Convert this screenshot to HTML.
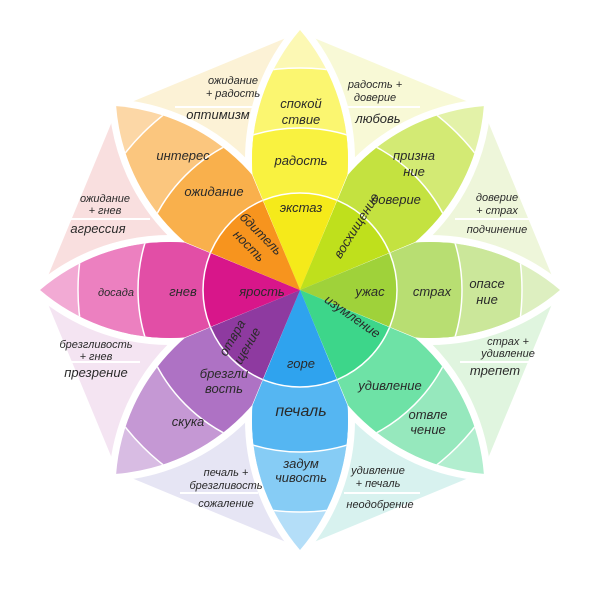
<!DOCTYPE html>
<html><head><meta charset="utf-8"><style>
html,body{margin:0;padding:0;background:#fff;width:604px;height:604px;overflow:hidden}
svg{display:block}
text{font-family:"Liberation Sans",sans-serif;font-style:italic;fill:#2a2a2a;text-anchor:middle}
.s{font-size:11px}
.m{font-size:13px}
</style></head><body>
<svg width="604" height="604" viewBox="0 0 604 604">
<defs>
<clipPath id="w"><polygon points="0,0 -115,-280 115,-280"/></clipPath>
<clipPath id="l"><path d="M0,0 A200,200 0 0 1 0,-260 A200,200 0 0 1 0,0Z"/></clipPath>
<g id="gap"><path d="M0,0 A200,200 0 0 1 0,-260 A200,200 0 0 1 0,0Z" fill="#fff" stroke="#fff" stroke-width="14" stroke-linejoin="round"/></g>
</defs>
<g transform="translate(300,290)">
<g stroke="#fff" stroke-width="4">
<polygon points="0,0 0,-260 -183.8,-183.8" fill="#fcf2d6"/>
<polygon points="0,0 0,-260 183.8,-183.8" fill="#f8f9d6"/>
<polygon points="0,0 183.8,-183.8 260,0" fill="#eef6da"/>
<polygon points="0,0 260,0 183.8,183.8" fill="#e0f5df"/>
<polygon points="0,0 183.8,183.8 0,260" fill="#d8f2ef"/>
<polygon points="0,0 0,260 -183.8,183.8" fill="#e6e5f4"/>
<polygon points="0,0 -183.8,183.8 -260,0" fill="#f4e4f2"/>
<polygon points="0,0 -260,0 -183.8,-183.8" fill="#f9dfdf"/>
</g>
<use href="#gap"/><use href="#gap" transform="rotate(45)"/><use href="#gap" transform="rotate(90)"/><use href="#gap" transform="rotate(135)"/><use href="#gap" transform="rotate(180)"/><use href="#gap" transform="rotate(225)"/><use href="#gap" transform="rotate(270)"/><use href="#gap" transform="rotate(315)"/>
<g transform="rotate(0)"><g clip-path="url(#w)"><g clip-path="url(#l)">
<circle r="270" fill="#fcf8b4"/><circle r="222" fill="#fbf670"/><circle r="162" fill="#f9f240"/><circle r="97" fill="#f5ea1a"/>
<g fill="none" stroke="#fff" stroke-width="1.5"><circle r="222"/><circle r="162"/><circle r="97"/></g></g></g></g>
<g transform="rotate(45)"><g clip-path="url(#w)"><g clip-path="url(#l)">
<circle r="270" fill="#e3f2a8"/><circle r="222" fill="#d3ea74"/><circle r="162" fill="#c4e240"/><circle r="97" fill="#bfe01c"/>
<g fill="none" stroke="#fff" stroke-width="1.5"><circle r="222"/><circle r="162"/><circle r="97"/></g></g></g></g>
<g transform="rotate(90)"><g clip-path="url(#w)"><g clip-path="url(#l)">
<circle r="270" fill="#ddefc0"/><circle r="222" fill="#cbe79a"/><circle r="162" fill="#b8de72"/><circle r="97" fill="#9fd23a"/>
<g fill="none" stroke="#fff" stroke-width="1.5"><circle r="222"/><circle r="162"/><circle r="97"/></g></g></g></g>
<g transform="rotate(135)"><g clip-path="url(#w)"><g clip-path="url(#l)">
<circle r="270" fill="#b2eecf"/><circle r="222" fill="#96e8bd"/><circle r="162" fill="#6ee2a6"/><circle r="97" fill="#3dd68a"/>
<g fill="none" stroke="#fff" stroke-width="1.5"><circle r="222"/><circle r="162"/><circle r="97"/></g></g></g></g>
<g transform="rotate(180)"><g clip-path="url(#w)"><g clip-path="url(#l)">
<circle r="270" fill="#b4def8"/><circle r="222" fill="#86ccf5"/><circle r="162" fill="#55b6f2"/><circle r="97" fill="#2fa3ee"/>
<g fill="none" stroke="#fff" stroke-width="1.5"><circle r="222"/><circle r="162"/><circle r="97"/></g></g></g></g>
<g transform="rotate(225)"><g clip-path="url(#w)"><g clip-path="url(#l)">
<circle r="270" fill="#d8bce3"/><circle r="222" fill="#c598d4"/><circle r="162" fill="#ae72c4"/><circle r="97" fill="#8e3aa0"/>
<g fill="none" stroke="#fff" stroke-width="1.5"><circle r="222"/><circle r="162"/><circle r="97"/></g></g></g></g>
<g transform="rotate(270)"><g clip-path="url(#w)"><g clip-path="url(#l)">
<circle r="270" fill="#f2aad4"/><circle r="222" fill="#ec80c0"/><circle r="162" fill="#e24ea6"/><circle r="97" fill="#d8168a"/>
<g fill="none" stroke="#fff" stroke-width="1.5"><circle r="222"/><circle r="162"/><circle r="97"/></g></g></g></g>
<g transform="rotate(315)"><g clip-path="url(#w)"><g clip-path="url(#l)">
<circle r="270" fill="#fcd7a6"/><circle r="222" fill="#fbc67e"/><circle r="162" fill="#f9b04c"/><circle r="97" fill="#f7941e"/>
<g fill="none" stroke="#fff" stroke-width="1.5"><circle r="222"/><circle r="162"/><circle r="97"/></g></g></g></g>
</g>
<g stroke="#fff" stroke-width="2">
<line x1="175" y1="107" x2="258" y2="107"/><line x1="344" y1="107" x2="420" y2="107"/>
<line x1="455" y1="219" x2="545" y2="219"/><line x1="460" y1="362" x2="535" y2="362"/>
<line x1="344" y1="493" x2="420" y2="493"/><line x1="180" y1="493" x2="258" y2="493"/>
<line x1="55" y1="362" x2="140" y2="362"/><line x1="60" y1="219" x2="150" y2="219"/>
</g>
<text class="m" x="301" y="108">спокой</text><text class="m" x="301" y="124">ствие</text>
<text class="m" x="301" y="165">радость</text><text class="m" x="301" y="212">экстаз</text>
<text class="m" x="414" y="160">призна</text><text class="m" x="414" y="176">ние</text>
<text class="m" x="396" y="204">доверие</text>
<text class="m" transform="translate(360,228) rotate(-58)">восхищение</text>
<text class="m" x="487" y="288">опасе</text><text class="m" x="487" y="304">ние</text>
<text class="m" x="432" y="296">страх</text><text class="m" x="370" y="296">ужас</text>
<text class="m" transform="translate(350,320) rotate(35)">изумление</text>
<text class="m" x="390" y="390">удивление</text>
<text class="m" x="428" y="419">отвле</text><text class="m" x="428" y="434">чение</text>
<text class="m" x="301" y="368">горе</text>
<text x="301" y="416" style="font-size:16px">печаль</text>
<text class="m" x="301" y="468">задум</text><text class="m" x="301" y="482">чивость</text>
<text class="m" transform="translate(236,340) rotate(-60)">отвра</text>
<text class="m" transform="translate(251,348) rotate(-60)">щение</text>
<text class="m" x="224" y="378">брезгли</text><text class="m" x="224" y="393">вость</text>
<text class="m" x="188" y="426">скука</text>
<text class="m" x="262" y="296">ярость</text><text class="m" x="183" y="296">гнев</text><text class="s" x="116" y="296">досада</text>
<text class="m" transform="translate(258,237) rotate(45)">бдитель</text>
<text class="m" transform="translate(246,249) rotate(45)">ность</text>
<text class="m" x="214" y="196">ожидание</text><text class="m" x="183" y="160">интерес</text>
<text class="s" x="233" y="84">ожидание</text><text class="s" x="233" y="97">+ радость</text><text class="m" x="218" y="119">оптимизм</text>
<text class="s" x="375" y="88">радость +</text><text class="s" x="375" y="101">доверие</text><text class="m" x="378" y="123">любовь</text>
<text class="s" x="497" y="201">доверие</text><text class="s" x="497" y="214">+ страх</text><text class="s" x="497" y="233">подчинение</text>
<text class="s" x="508" y="345">страх +</text><text class="s" x="508" y="357">удивление</text><text class="m" x="495" y="375">трепет</text>
<text class="s" x="378" y="474">удивление</text><text class="s" x="378" y="487">+ печаль</text><text class="s" x="380" y="508">неодобрение</text>
<text class="s" x="226" y="476">печаль +</text><text class="s" x="226" y="489">брезгливость</text><text class="s" x="226" y="507">сожаление</text>
<text class="s" x="96" y="348">брезгливость</text><text class="s" x="96" y="360">+ гнев</text><text class="m" x="96" y="377">презрение</text>
<text class="s" x="105" y="202">ожидание</text><text class="s" x="105" y="214">+ гнев</text><text class="m" x="98" y="233">агрессия</text>
</svg>
</body></html>
